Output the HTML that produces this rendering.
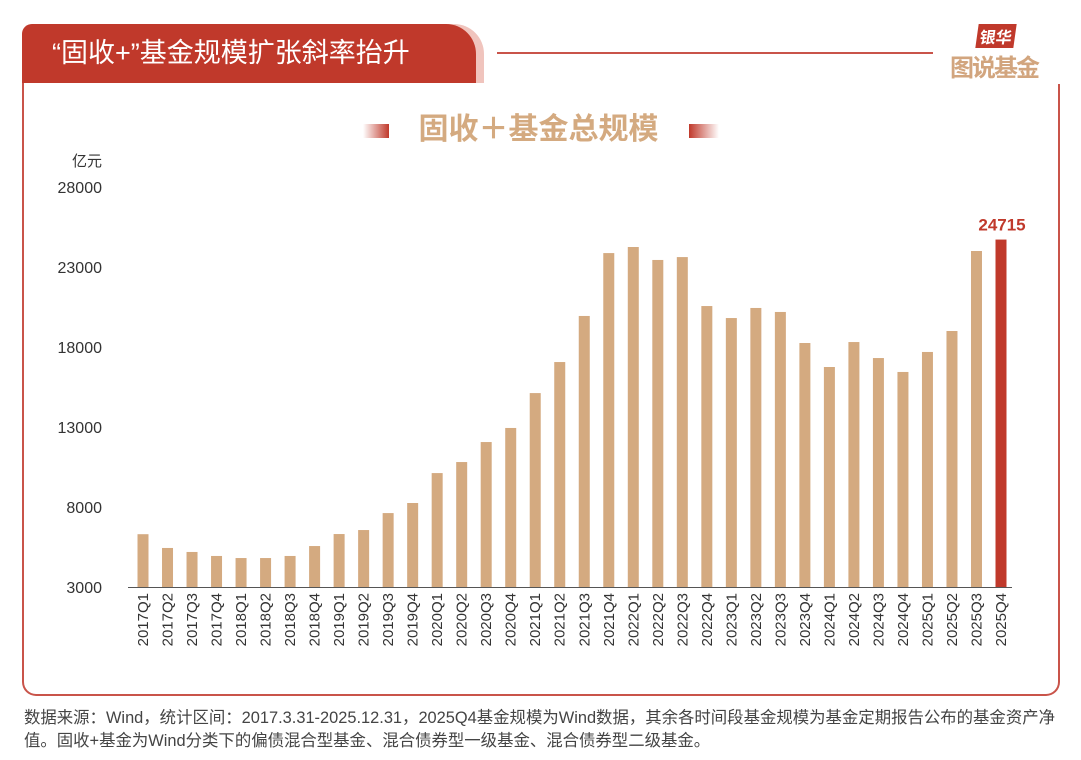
<!DOCTYPE html>
<html><head><meta charset="utf-8">
<style>
body{margin:0;width:1081px;height:760px;background:#fff;position:relative;overflow:hidden;font-family:"Liberation Sans","Noto Sans CJK SC",sans-serif;}
.abs{position:absolute;}
</style></head>
<body>
<div class="abs" style="left:22px;top:60px;width:1034px;height:634px;border:2px solid #c9544a;border-top:none;border-radius:0 0 14px 14px;"></div>
<div class="abs" style="left:22px;top:24px;width:462px;height:59px;background:#f0c4bd;border-radius:10px 30px 0 0;"></div>
<div class="abs" style="left:22px;top:24px;width:454px;height:59px;background:#c0392b;border-radius:10px 30px 0 0;color:#fff;font-size:27px;line-height:59px;padding-left:30px;box-sizing:border-box;">“固收+”基金规模扩张斜率抬升</div>
<div class="abs" style="left:497px;top:52px;width:436px;height:2px;background:#c9544a;"></div>
<div class="abs" style="left:945px;top:22px;width:120px;height:62px;background:#fff;">
 <div class="abs" style="left:32px;top:2px;background:#c0392b;color:#fff;font-weight:bold;font-size:16px;padding:0 3px;transform:skewX(-8deg);">银华</div>
 <div class="abs" style="left:5px;top:26px;color:#d2a57e;font-weight:bold;font-size:24px;letter-spacing:-2px;">图说基金</div>
</div>
<div class="abs" style="left:0;width:1081px;top:104px;text-align:center;font-size:30px;font-weight:bold;color:#d4aa80;">
<span style="display:inline-block;width:26px;height:14px;background:linear-gradient(90deg,#fff,#c0392b);margin-right:30px;vertical-align:middle"></span>固收＋基金总规模<span style="display:inline-block;width:30px;height:14px;background:linear-gradient(90deg,#c0392b,#fff);margin-left:30px;vertical-align:middle"></span></div>
<svg class="abs" style="left:0;top:0" width="1081" height="760">
<g id="g"></g></svg>
<div class="abs" style="left:24px;top:707px;width:1060px;font-size:16.4px;line-height:23px;color:#444;white-space:nowrap;">数据来源：Wind，统计区间：2017.3.31-2025.12.31，2025Q4基金规模为Wind数据，其余各时间段基金规模为基金定期报告公布的基金资产净<br>值。固收+基金为Wind分类下的偏债混合型基金、混合债券型一级基金、混合债券型二级基金。</div>
<script>
const categories=["2017Q1","2017Q2","2017Q3","2017Q4","2018Q1","2018Q2","2018Q3","2018Q4","2019Q1","2019Q2","2019Q3","2019Q4","2020Q1","2020Q2","2020Q3","2020Q4","2021Q1","2021Q2","2021Q3","2021Q4","2022Q1","2022Q2","2022Q3","2022Q4","2023Q1","2023Q2","2023Q3","2023Q4","2024Q1","2024Q2","2024Q3","2024Q4","2025Q1","2025Q2","2025Q3","2025Q4"];
const values=[6300,5440,5190,4940,4810,4810,4940,5560,6310,6560,7620,8250,10120,10810,12060,12940,15120,17060,19940,23870,24250,23440,23620,20560,19810,20440,20190,18250,16750,18310,17310,16440,17690,19000,24000,24715];
const yTicks=[3000,8000,13000,18000,23000,28000];
const NS="http://www.w3.org/2000/svg";
const g=document.getElementById('g');
const y0=587,y1=187,vmin=3000,vmax=28000;
const y=v=>y0-(v-vmin)/(vmax-vmin)*(y0-y1);
const x=i=>143+i*(1001-143)/(categories.length-1);
function mk(t,a){const e=document.createElementNS(NS,t);for(const k in a)e.setAttribute(k,a[k]);g.appendChild(e);return e;}
let u=mk('text',{x:102,y:166,'text-anchor':'end','font-size':15,fill:'#333'});u.textContent='亿元';


yTicks.forEach(v=>{const t=mk('text',{x:102,y:y(v)+6,'text-anchor':'end','font-size':16,fill:'#333','font-family':'Liberation Sans'});t.textContent=v;

});
const ax=mk('line',{x1:128,x2:1012,y1:y0+0.5,y2:y0+0.5,stroke:'#555','stroke-width':1});


categories.forEach((c,i)=>{const last=i===categories.length-1;
const r=mk('rect',{x:x(i)-5.5,y:y(values[i]),width:11,height:y0-y(values[i]),fill:last?'#c0392b':'#d4aa80'});


const t=mk('text',{x:0,y:0,'font-size':15,fill:'#333','text-anchor':'end',transform:`translate(${x(i)+5},${y0+6}) rotate(-90)`});t.textContent=c;


if(last){const l=mk('text',{x:x(i)+1,y:y(values[i])-9,'text-anchor':'middle','font-size':17,'font-weight':'bold',fill:'#c0392b'});l.textContent=values[i];

}});
</script>
</body></html>
